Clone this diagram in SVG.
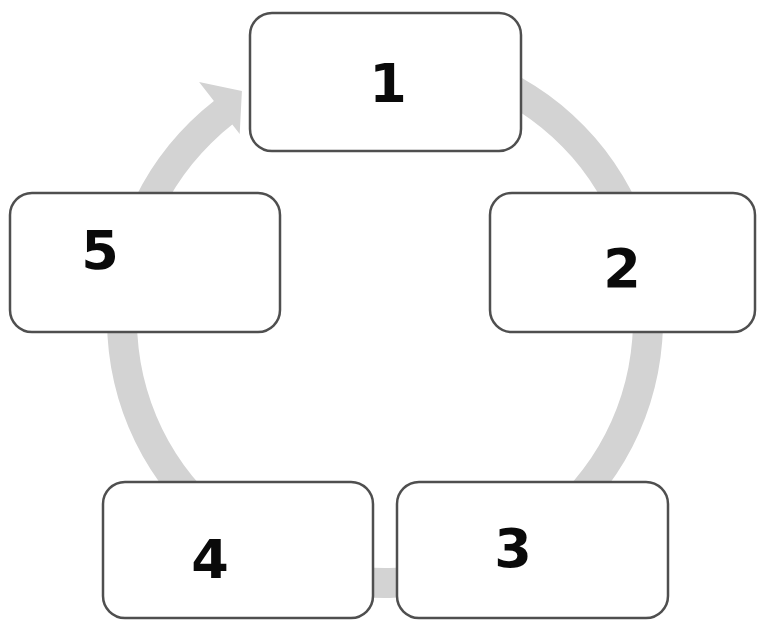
<svg xmlns="http://www.w3.org/2000/svg" width="757" height="621" viewBox="0 0 757 621">
<style>
.box{fill:#ffffff;stroke:#4f4f4f;stroke-width:2.5}
.lbl{font-family:"DejaVu Sans","Liberation Sans",sans-serif;font-weight:bold;font-size:54px;fill:#0a0a0a;text-anchor:middle}
.flow{fill:#d3d3d3;stroke:none}
</style>
<rect width="757" height="621" fill="#ffffff"/>
<g id="connectors">
<path class="flow" d="M433.3,46.2 A278,278 0 1 1 213.9,100.9 L199.1,82.0 L241.9,91.0 L239.7,134.0 L232.3,124.6 A248,248 0 1 0 428.1,75.8 Z"/>
</g>
<g id="node1"><rect class="box" x="250" y="13" width="271" height="138" rx="22"/><text class="lbl" x="388" y="102">1</text></g>
<g id="node2"><rect class="box" x="490" y="193" width="265" height="139" rx="22"/><text class="lbl" x="622" y="287">2</text></g>
<g id="node3"><rect class="box" x="397" y="482" width="271" height="136" rx="22"/><text class="lbl" x="513" y="567">3</text></g>
<g id="node4"><rect class="box" x="103" y="482" width="270" height="136" rx="22"/><text class="lbl" x="210" y="578">4</text></g>
<g id="node5"><rect class="box" x="10" y="193" width="270" height="139" rx="22"/><text class="lbl" x="100" y="269">5</text></g>
</svg>
